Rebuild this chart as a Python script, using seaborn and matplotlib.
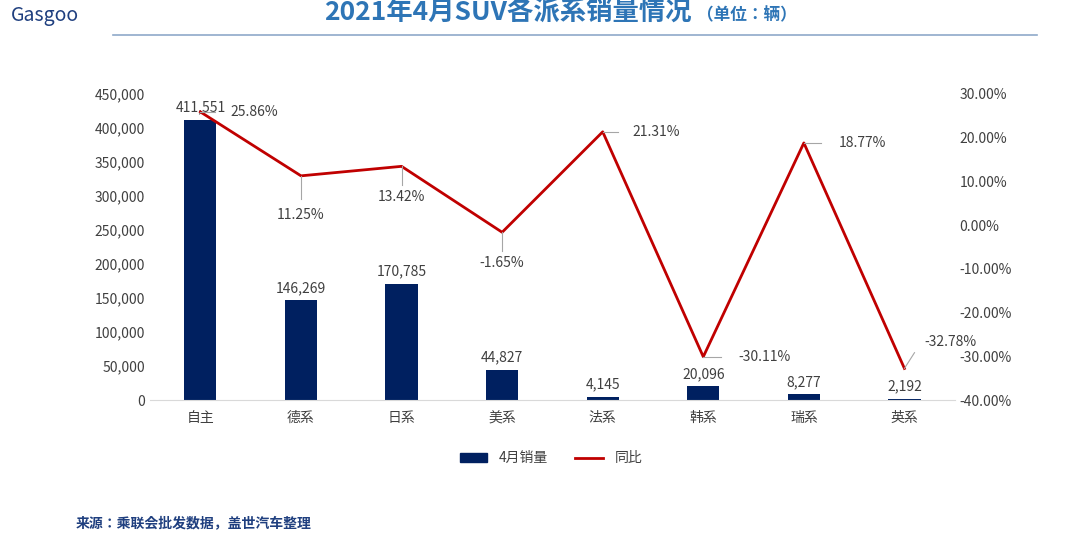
import matplotlib
matplotlib.use("Agg")
import matplotlib.pyplot as plt
import seaborn as sns
import pandas as pd
from matplotlib.ticker import FuncFormatter
from matplotlib.lines import Line2D
from matplotlib.patches import Patch

plt.rcParams["font.family"] = "sans-serif"
plt.rcParams["font.sans-serif"] = ["Noto Sans CJK SC", "Noto Sans CJK JP", "DejaVu Sans"]

categories = ["自主", "德系", "日系", "美系", "法系", "韩系", "瑞系", "英系"]
sales = [411551, 146269, 170785, 44827, 4145, 20096, 8277, 2192]
yoy = [25.86, 11.25, 13.42, -1.65, 21.31, -30.11, 18.77, -32.78]
sales_labels = ["411,551", "146,269", "170,785", "44,827", "4,145", "20,096", "8,277", "2,192"]
yoy_labels = ["25.86%", "11.25%", "13.42%", "-1.65%", "21.31%", "-30.11%", "18.77%", "-32.78%"]

df = pd.DataFrame({"cat": categories, "sales": sales, "yoy": yoy})

fig = plt.figure(figsize=(10.8, 5.33), dpi=100)
ax = fig.add_axes([0.139, 0.2495, 0.745, 0.5745])
sns.barplot(data=df, x="cat", y="sales", color="#002060", width=0.32, ax=ax, saturation=1)
ax.set_ylim(0, 450000)
ax.set_yticks(range(0, 450001, 50000))
ax.yaxis.set_major_formatter(FuncFormatter(lambda v, p: f"{int(v):,}"))
ax.set_xlabel(""); ax.set_ylabel("")
for s in ["top", "right", "left"]:
    ax.spines[s].set_visible(False)
ax.spines["bottom"].set_color("#d9d9d9")
ax.tick_params(axis="both", length=0, labelsize=10, colors="#404040")
ax.tick_params(axis="x", pad=8)
for i, (v, l) in enumerate(zip(sales, sales_labels)):
    ax.text(i, v + 8000, l, ha="center", va="bottom", fontsize=10, color="#404040")

ax2 = ax.twinx()
sns.lineplot(x=list(range(len(categories))), y=yoy, ax=ax2, color="#C00000", linewidth=2)
ax2.set_ylim(-40, 30)
ax2.set_yticks(range(-40, 31, 10))
ax2.yaxis.set_major_formatter(FuncFormatter(lambda v, p: f"{v:.2f}%"))
ax2.tick_params(axis="y", length=0, labelsize=10, colors="#404040")
for s in ax2.spines.values():
    s.set_visible(False)
ax.set_xlim(-0.5, 7.5)
offsets = [(0.3, 0), (0, -9), (0, -7), (0, -7), (0.3, 0), (0.35, 0), (0.35, 0), (0.2, 6)]
for i, (v, l) in enumerate(zip(yoy, yoy_labels)):
    dx, dy = offsets[i]
    ax2.plot([i, i + dx * 0.5], [v, v + dy * 0.6], color="#a6a6a6", linewidth=0.8)
    ax2.text(i + dx, v + dy, l, ha="left" if dx else "center", va="center",
             fontsize=10, color="#404040")

handles = [Patch(color="#002060", label="4月销量"), Line2D([0], [0], color="#C00000", lw=2, label="同比")]
fig.legend(handles=handles, loc="center", bbox_to_anchor=(0.51, 0.14), ncol=2, frameon=False,
           fontsize=10, handlelength=2, labelcolor="#404040")

fig.text(0.47, 0.975, "2021年4月SUV各派系销量情况", ha="center", va="center",
         fontsize=19, fontweight="bold", color="#2E75B6")
fig.text(0.645, 0.972, "（单位：辆）", ha="left", va="center", fontsize=12, fontweight="bold", color="#2E75B6")
fig.add_artist(Line2D([0.105, 0.96], [0.935, 0.935], color="#8fa9c9", lw=1.2))
fig.text(0.01, 0.97, "Gasgoo", ha="left", va="center", fontsize=14, color="#1f3f7f")
fig.text(0.07, 0.005, "来源：乘联会批发数据，盖世汽车整理", ha="left", va="bottom",
         fontsize=10, fontweight="bold", color="#1f3f7f")
fig.savefig("out.png", dpi=100)
